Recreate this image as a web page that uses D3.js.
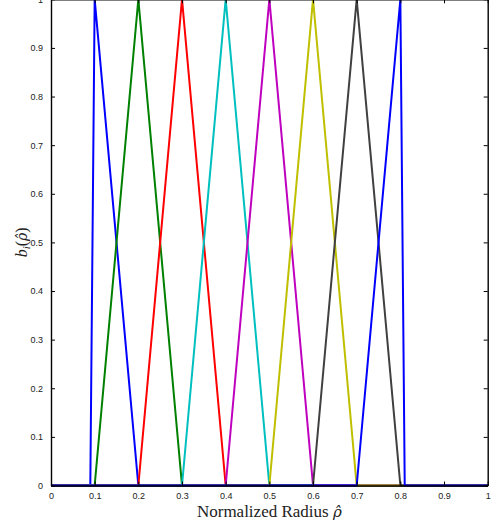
<!DOCTYPE html>
<html>
<head>
<meta charset="utf-8">
<script src="https://cdn.jsdelivr.net/npm/d3@7"></script>
<style>
  html, body { margin: 0; padding: 0; background: #fff; }
  svg { display: block; }
</style>
</head>
<body>
<svg id="chart" width="493" height="522"></svg>
<script>
// Hat basis functions b_i(rho) on the normalized radius
const seriesNames = ["b1", "b2", "b3", "b4", "b5", "b6", "b7", "b8"];
const b1x = [0, 0.09, 0.1, 0.2, 1];
const b2x = [0, 0.1, 0.2, 0.3, 1];
const b3x = [0, 0.2, 0.3, 0.4, 1];
const b4x = [0, 0.3, 0.4, 0.5, 1];
const b5x = [0, 0.4, 0.5, 0.6, 1];
const b6x = [0, 0.5, 0.6, 0.7, 1];
const b7x = [0, 0.6, 0.7, 0.8, 1];
const b8x = [0, 0.7, 0.8, 0.81, 1];
const hatY = [0, 0, 1, 0, 0];
const xTicks = [0, 0.1, 0.2, 0.3, 0.4, 0.5, 0.6, 0.7, 0.8, 0.9, 1];
const yTicks = [0, 0.1, 0.2, 0.3, 0.4, 0.5, 0.6, 0.7, 0.8, 0.9, 1];
const colors = ["#0000ff", "#008000", "#ff0000", "#00bfbf", "#bf00bf", "#bfbf00", "#404040", "#0000ff"];

const knotsX = [b1x, b2x, b3x, b4x, b5x, b6x, b7x, b8x];
const series = seriesNames.map((name, i) => ({
  name,
  color: colors[i],
  points: knotsX[i].map((x, j) => [x, hatY[j]])
}));

const svg = d3.select("#chart");
const plotLeft = 51, plotRight = 487.7, plotTop = -0.7, plotBottom = 485.5;

const x = d3.scaleLinear().domain([0, 1]).range([plotLeft, plotRight]);
const y = d3.scaleLinear().domain([0, 1]).range([plotBottom, plotTop]);

const line = d3.line().x(d => x(d[0])).y(d => y(d[1]));

// curves
svg.append("g")
  .selectAll("path")
  .data(series)
  .join("path")
  .attr("d", d => line(d.points))
  .attr("fill", "none")
  .attr("stroke", d => d.color)
  .attr("stroke-width", 2)
  .attr("stroke-linejoin", "round");

const tickLen = 4;
const fmt = d => d === 0 ? "0" : d === 1 ? "1" : d3.format(".1f")(d);

// axes with inward ticks, boxed frame
const axB = d3.axisBottom(x).tickValues(xTicks).tickFormat(fmt).tickSizeInner(-tickLen).tickSizeOuter(0).tickPadding(7);
const axT = d3.axisTop(x).tickValues(xTicks).tickFormat("").tickSizeInner(-tickLen).tickSizeOuter(0);
const axL = d3.axisLeft(y).tickValues(yTicks).tickFormat(fmt).tickSizeInner(-tickLen).tickSizeOuter(0).tickPadding(8);
const axR = d3.axisRight(y).tickValues(yTicks).tickFormat("").tickSizeInner(-tickLen).tickSizeOuter(0);

function style(g) {
  g.selectAll(".domain").attr("stroke", "#000").attr("stroke-width", 1.4);
  g.selectAll(".tick line").attr("stroke", "#000").attr("stroke-width", 1);
  g.selectAll(".tick text")
    .attr("fill", "#222")
    .style("font-family", "'Liberation Sans', Arial, Helvetica, sans-serif")
    .style("font-size", "9px");
}

svg.append("g").attr("transform", `translate(0,${plotTop})`).call(axT).call(style);
svg.append("g").attr("transform", `translate(${plotRight},0)`).call(axR).call(style);
svg.append("g").attr("transform", `translate(${plotLeft},0)`).call(axL).call(style);
svg.append("g").attr("transform", `translate(0,${plotBottom})`).call(axB).call(style);

// italic rho with a combining circumflex, set in a font that places the mark
function rhoHat(textSel, size) {
  textSel.append("tspan")
    .style("font-family", "'DejaVu Serif', serif")
    .style("font-style", "italic")
    .style("font-size", size + "px")
    .text("ρ\u0302");
}

// axis titles
const xt = svg.append("text")
  .attr("x", (plotLeft + plotRight) / 2)
  .attr("y", 517)
  .attr("text-anchor", "middle")
  .style("font-family", "'Liberation Serif', 'Times New Roman', serif")
  .style("font-size", "17px")
  .attr("fill", "#222");
xt.append("tspan").text("Normalized Radius ");
rhoHat(xt, 15);

const yt = svg.append("text")
  .attr("transform", `translate(27,${(plotTop + plotBottom) / 2}) rotate(-90)`)
  .attr("text-anchor", "middle")
  .style("font-family", "'Liberation Serif', 'Times New Roman', serif")
  .style("font-size", "16px")
  .attr("fill", "#222");
yt.append("tspan").style("font-style", "italic").text("b");
yt.append("tspan").attr("dy", 3).style("font-size", "11px").style("font-style", "italic").text("i");
yt.append("tspan").attr("dy", -3).text("(");
rhoHat(yt, 14);
yt.append("tspan").text(")");
</script>
</body>
</html>
